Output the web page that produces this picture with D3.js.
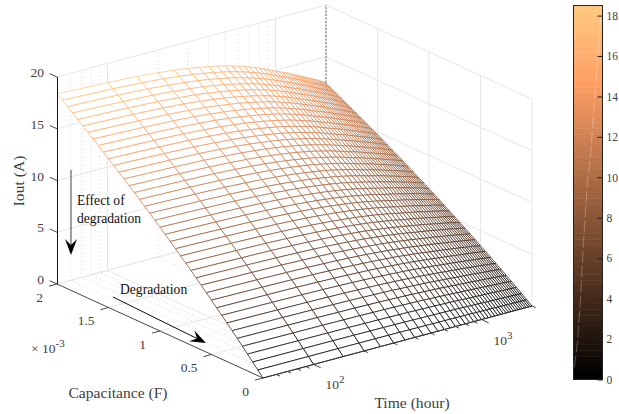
<!DOCTYPE html>
<html>
<head>
<meta charset="utf-8">
<script src="https://cdn.jsdelivr.net/npm/d3@7"></script>
<style>
  body { margin: 0; background: #fff; }
  text { font-family: "Liberation Serif", serif; fill: #404040; font-size: 13.5px; }
</style>
</head>
<body>
<script>
// Values
const capValues = [0, 0.05, 0.1, 0.15, 0.2, 0.25, 0.3, 0.35, 0.4, 0.45, 0.5, 0.55, 0.6, 0.65, 0.7, 0.75, 0.8, 0.85, 0.9, 0.95,
  1, 1.05, 1.1, 1.15, 1.2, 1.25, 1.3, 1.35, 1.4, 1.45, 1.5, 1.55, 1.6, 1.65, 1.7, 1.75, 1.8, 1.85, 1.9, 1.95, 2];   // x 10^-3 F
const timeValues = [50, 100, 150, 200, 250, 300, 350, 400, 450, 500, 550, 600, 650, 700, 750, 800, 850, 900, 950, 1000,
  1050, 1100, 1150, 1200, 1250, 1300, 1350, 1400, 1450, 1500, 1550, 1600, 1650, 1700, 1750, 1800, 1850, 1900, 1950, 2000];
// one row per capacitance, one column per time
const ioutRows = [
[0,0,0,0,0,0,0,0,0,0,0,0,0,0,0,0,0,0,0,0,0,0,0,0,0,0,0,0,0,0,0,0,0,0,0,0,0,0,0,0],
[.55,.54,.54,.53,.53,.52,.52,.51,.50,.50,.49,.49,.48,.48,.47,.47,.46,.46,.45,.45,.44,.44,.43,.43,.42,.42,.42,.41,.41,.41,.40,.40,.40,.39,.39,.39,.38,.38,.38,.37],
[1.09,1.08,1.07,1.06,1.05,1.04,1.03,1.02,1.00,.99,.98,.97,.96,.95,.94,.93,.92,.91,.90,.89,.88,.87,.86,.85,.84,.84,.83,.82,.81,.81,.80,.79,.79,.78,.77,.77,.76,.75,.75,.74],
[1.63,1.61,1.59,1.58,1.56,1.55,1.53,1.52,1.50,1.48,1.47,1.45,1.44,1.42,1.40,1.39,1.37,1.36,1.34,1.32,1.31,1.30,1.29,1.27,1.26,1.25,1.24,1.23,1.22,1.20,1.19,1.18,1.17,1.16,1.15,1.15,1.14,1.13,1.12,1.11],
[2.16,2.13,2.11,2.09,2.07,2.05,2.03,2.01,1.99,1.97,1.95,1.93,1.90,1.88,1.86,1.84,1.82,1.80,1.78,1.75,1.74,1.72,1.71,1.69,1.67,1.66,1.64,1.63,1.61,1.60,1.58,1.57,1.56,1.54,1.53,1.52,1.51,1.49,1.48,1.47],
[2.69,2.66,2.63,2.60,2.58,2.55,2.53,2.50,2.47,2.45,2.42,2.39,2.37,2.34,2.31,2.29,2.26,2.24,2.21,2.18,2.16,2.14,2.12,2.10,2.08,2.06,2.04,2.02,2.00,1.99,1.97,1.95,1.94,1.92,1.90,1.89,1.87,1.86,1.84,1.82],
[3.21,3.17,3.14,3.11,3.08,3.05,3.02,2.99,2.96,2.92,2.89,2.86,2.83,2.80,2.77,2.73,2.70,2.67,2.64,2.61,2.58,2.56,2.53,2.51,2.49,2.46,2.44,2.42,2.39,2.37,2.35,2.33,2.31,2.30,2.28,2.26,2.24,2.22,2.20,2.18],
[3.73,3.68,3.65,3.61,3.58,3.54,3.50,3.47,3.43,3.39,3.36,3.32,3.28,3.25,3.21,3.17,3.14,3.10,3.06,3.03,3.00,2.97,2.94,2.91,2.89,2.86,2.83,2.80,2.78,2.76,2.73,2.71,2.69,2.66,2.64,2.62,2.60,2.57,2.55,2.53],
[4.24,4.19,4.15,4.11,4.07,4.03,3.99,3.94,3.90,3.86,3.82,3.78,3.74,3.69,3.65,3.61,3.57,3.53,3.49,3.44,3.41,3.38,3.35,3.31,3.28,3.25,3.22,3.19,3.16,3.13,3.11,3.08,3.06,3.03,3.01,2.98,2.95,2.93,2.90,2.88],
[4.74,4.69,4.65,4.60,4.56,4.51,4.46,4.42,4.37,4.32,4.28,4.23,4.18,4.13,4.09,4.04,3.99,3.95,3.90,3.86,3.82,3.78,3.75,3.71,3.67,3.64,3.60,3.57,3.54,3.51,3.48,3.45,3.42,3.39,3.36,3.34,3.31,3.28,3.25,3.22],
[5.25,5.19,5.14,5.09,5.04,4.99,4.93,4.88,4.83,4.78,4.73,4.68,4.63,4.57,4.52,4.47,4.42,4.37,4.31,4.26,4.22,4.18,4.14,4.10,4.06,4.02,3.98,3.95,3.91,3.88,3.85,3.81,3.78,3.75,3.72,3.69,3.66,3.63,3.59,3.56],
[5.74,5.68,5.62,5.57,5.51,5.46,5.40,5.35,5.29,5.23,5.18,5.12,5.06,5.00,4.95,4.89,4.84,4.78,4.72,4.67,4.62,4.58,4.54,4.49,4.45,4.40,4.36,4.32,4.29,4.25,4.21,4.18,4.14,4.11,4.07,4.04,4.00,3.97,3.94,3.90],
[6.24,6.16,6.11,6.04,5.99,5.93,5.86,5.80,5.74,5.68,5.62,5.56,5.50,5.43,5.37,5.31,5.25,5.19,5.13,5.07,5.02,4.97,4.92,4.88,4.83,4.78,4.73,4.69,4.65,4.61,4.57,4.53,4.50,4.46,4.42,4.38,4.35,4.31,4.27,4.23],
[6.72,6.65,6.58,6.52,6.46,6.39,6.32,6.26,6.19,6.13,6.06,5.99,5.93,5.86,5.79,5.73,5.66,5.60,5.53,5.46,5.41,5.36,5.31,5.26,5.21,5.16,5.10,5.06,5.02,4.97,4.93,4.89,4.85,4.81,4.77,4.73,4.69,4.65,4.61,4.57],
[7.21,7.12,7.06,6.99,6.92,6.85,6.78,6.71,6.64,6.57,6.50,6.43,6.35,6.28,6.21,6.14,6.07,6.00,5.93,5.86,5.80,5.75,5.69,5.64,5.58,5.53,5.47,5.42,5.38,5.33,5.28,5.24,5.20,5.15,5.11,5.07,5.02,4.98,4.94,4.89],
[7.69,7.60,7.53,7.45,7.38,7.30,7.23,7.15,7.08,7.00,6.93,6.85,6.78,6.70,6.62,6.55,6.47,6.40,6.32,6.25,6.19,6.13,6.07,6.01,5.95,5.89,5.84,5.79,5.73,5.68,5.63,5.59,5.54,5.50,5.45,5.40,5.36,5.31,5.27,5.22],
[8.16,8.07,7.99,7.91,7.83,7.75,7.67,7.59,7.51,7.43,7.35,7.27,7.19,7.11,7.03,6.95,6.87,6.79,6.71,6.63,6.57,6.51,6.44,6.38,6.32,6.26,6.20,6.14,6.09,6.03,5.98,5.93,5.88,5.83,5.79,5.74,5.69,5.64,5.59,5.54],
[8.63,8.53,8.45,8.37,8.29,8.20,8.12,8.03,7.95,7.86,7.78,7.69,7.61,7.52,7.44,7.35,7.27,7.18,7.10,7.01,6.95,6.88,6.82,6.75,6.68,6.62,6.55,6.50,6.44,6.38,6.33,6.27,6.22,6.17,6.12,6.07,6.02,5.96,5.91,5.86],
[9.10,8.99,8.91,8.82,8.73,8.64,8.56,8.47,8.38,8.29,8.20,8.11,8.02,7.93,7.84,7.75,7.66,7.57,7.48,7.39,7.32,7.25,7.18,7.11,7.04,6.98,6.91,6.85,6.79,6.73,6.67,6.61,6.56,6.50,6.45,6.40,6.34,6.29,6.23,6.18],
[9.56,9.45,9.36,9.26,9.18,9.08,8.99,8.90,8.80,8.71,8.61,8.52,8.43,8.33,8.23,8.14,8.05,7.95,7.86,7.77,7.69,7.62,7.55,7.47,7.40,7.33,7.26,7.19,7.13,7.07,7.01,6.95,6.89,6.83,6.78,6.72,6.66,6.61,6.55,6.49],
[10.02,9.90,9.81,9.71,9.62,9.52,9.42,9.32,9.22,9.13,9.03,8.93,8.83,8.73,8.63,8.53,8.43,8.34,8.24,8.14,8.06,7.99,7.91,7.83,7.76,7.68,7.60,7.54,7.47,7.41,7.34,7.28,7.22,7.16,7.10,7.04,6.98,6.92,6.86,6.80],
[10.47,10.35,10.25,10.15,10.05,9.95,9.85,9.74,9.64,9.54,9.44,9.33,9.23,9.12,9.02,8.92,8.81,8.71,8.61,8.51,8.43,8.35,8.27,8.19,8.11,8.03,7.95,7.88,7.81,7.74,7.67,7.61,7.55,7.49,7.42,7.36,7.30,7.23,7.17,7.11],
[10.92,10.79,10.69,10.58,10.48,10.38,10.27,10.16,10.05,9.95,9.84,9.73,9.63,9.51,9.41,9.30,9.19,9.09,8.98,8.87,8.79,8.71,8.62,8.54,8.46,8.37,8.29,8.22,8.15,8.07,8.00,7.94,7.87,7.81,7.74,7.68,7.61,7.55,7.48,7.41],
[11.36,11.23,11.13,11.01,10.91,10.80,10.69,10.58,10.46,10.35,10.24,10.13,10.02,9.90,9.79,9.68,9.57,9.46,9.34,9.23,9.15,9.06,8.97,8.89,8.80,8.71,8.63,8.55,8.48,8.40,8.33,8.26,8.19,8.12,8.06,7.99,7.92,7.85,7.78,7.72],
[11.80,11.67,11.56,11.44,11.33,11.22,11.10,10.99,10.87,10.76,10.64,10.52,10.41,10.29,10.17,10.06,9.94,9.82,9.71,9.59,9.50,9.41,9.32,9.23,9.14,9.05,8.96,8.88,8.81,8.73,8.65,8.58,8.51,8.44,8.37,8.30,8.23,8.16,8.09,8.02],
[12.24,12.10,11.99,11.87,11.75,11.63,11.51,11.39,11.27,11.15,11.03,10.91,10.79,10.67,10.55,10.43,10.31,10.19,10.07,9.95,9.85,9.76,9.67,9.57,9.48,9.39,9.29,9.21,9.13,9.05,8.97,8.90,8.83,8.75,8.68,8.61,8.53,8.46,8.39,8.31],
[12.67,12.53,12.41,12.29,12.17,12.05,11.92,11.80,11.67,11.55,11.42,11.30,11.18,11.04,10.92,10.80,10.67,10.55,10.42,10.30,10.20,10.11,10.01,9.91,9.82,9.72,9.62,9.54,9.46,9.37,9.29,9.22,9.14,9.06,8.99,8.91,8.84,8.76,8.68,8.61],
[13.10,12.95,12.83,12.70,12.58,12.45,12.33,12.20,12.07,11.94,11.81,11.68,11.55,11.42,11.29,11.16,11.03,10.91,10.78,10.65,10.55,10.45,10.35,10.25,10.15,10.05,9.95,9.86,9.78,9.69,9.61,9.53,9.45,9.37,9.29,9.21,9.14,9.06,8.98,8.90],
[13.53,13.37,13.25,13.12,12.99,12.86,12.72,12.59,12.46,12.33,12.19,12.06,11.93,11.79,11.66,11.52,11.39,11.26,11.13,10.99,10.89,10.79,10.68,10.58,10.48,10.37,10.27,10.18,10.09,10.01,9.92,9.84,9.76,9.67,9.59,9.51,9.43,9.35,9.27,9.19],
[13.95,13.79,13.66,13.52,13.40,13.26,13.12,12.98,12.85,12.71,12.57,12.44,12.30,12.16,12.02,11.88,11.75,11.61,11.47,11.34,11.23,11.12,11.02,10.91,10.80,10.70,10.59,10.50,10.41,10.32,10.23,10.14,10.06,9.98,9.89,9.81,9.73,9.64,9.56,9.47],
[14.37,14.20,14.07,13.93,13.80,13.66,13.52,13.37,13.23,13.09,12.95,12.81,12.67,12.52,12.38,12.24,12.10,11.96,11.82,11.68,11.57,11.46,11.35,11.24,11.13,11.02,10.91,10.82,10.72,10.63,10.53,10.45,10.36,10.28,10.19,10.10,10.02,9.93,9.85,9.76],
[14.78,14.61,14.48,14.33,14.20,14.05,13.91,13.76,13.62,13.47,13.33,13.18,13.04,12.88,12.74,12.59,12.45,12.30,12.16,12.01,11.90,11.79,11.68,11.56,11.45,11.34,11.22,11.13,11.03,10.93,10.84,10.75,10.66,10.57,10.48,10.40,10.31,10.22,10.13,10.04],
[15.19,15.02,14.88,14.73,14.59,14.44,14.29,14.14,13.99,13.85,13.70,13.55,13.40,13.24,13.09,12.94,12.79,12.65,12.50,12.35,12.23,12.12,12.00,11.88,11.77,11.65,11.54,11.44,11.34,11.24,11.14,11.05,10.96,10.87,10.78,10.68,10.59,10.50,10.41,10.32],
[15.60,15.42,15.28,15.13,14.98,14.83,14.68,14.52,14.37,14.22,14.06,13.91,13.76,13.60,13.44,13.29,13.14,12.98,12.83,12.68,12.56,12.44,12.32,12.20,12.08,11.97,11.85,11.74,11.64,11.54,11.44,11.34,11.25,11.16,11.06,10.97,10.88,10.78,10.69,10.60],
[16.01,15.82,15.67,15.52,15.37,15.21,15.06,14.90,14.74,14.59,14.43,14.27,14.11,13.95,13.79,13.63,13.48,13.32,13.16,13.01,12.89,12.76,12.64,12.52,12.40,12.27,12.15,12.05,11.94,11.84,11.73,11.64,11.54,11.45,11.35,11.25,11.16,11.06,10.97,10.87],
[16.41,16.22,16.07,15.91,15.75,15.59,15.43,15.27,15.11,14.95,14.79,14.63,14.47,14.30,14.14,13.98,13.82,13.65,13.49,13.33,13.21,13.08,12.96,12.83,12.71,12.58,12.46,12.35,12.24,12.14,12.03,11.93,11.83,11.73,11.63,11.54,11.44,11.34,11.24,11.14],
[16.80,16.61,16.46,16.29,16.14,15.97,15.81,15.64,15.48,15.31,15.15,14.98,14.82,14.64,14.48,14.32,14.15,13.99,13.82,13.66,13.53,13.40,13.27,13.14,13.02,12.89,12.76,12.65,12.54,12.43,12.32,12.22,12.12,12.02,11.92,11.82,11.72,11.62,11.51,11.41],
[17.20,17.00,16.84,16.67,16.51,16.35,16.18,16.01,15.84,15.67,15.50,15.33,15.17,14.99,14.82,14.65,14.48,14.31,14.14,13.98,13.84,13.71,13.58,13.45,13.32,13.19,13.06,12.95,12.83,12.72,12.61,12.50,12.40,12.30,12.20,12.09,11.99,11.89,11.78,11.68],
[17.59,17.39,17.22,17.05,16.89,16.72,16.54,16.37,16.20,16.03,15.85,15.68,15.51,15.33,15.16,14.98,14.81,14.64,14.47,14.29,14.16,14.03,13.89,13.76,13.62,13.49,13.35,13.24,13.12,13.01,12.89,12.79,12.68,12.58,12.47,12.37,12.26,12.16,12.05,11.95],
[17.98,17.77,17.60,17.43,17.26,17.09,16.91,16.73,16.56,16.38,16.20,16.03,15.85,15.67,15.49,15.31,15.14,14.96,14.78,14.61,14.47,14.33,14.20,14.06,13.92,13.79,13.65,13.53,13.41,13.30,13.18,13.07,12.96,12.86,12.75,12.64,12.53,12.42,12.32,12.21],
[18.36,18.15,17.98,17.80,17.63,17.45,17.27,17.09,16.91,16.73,16.55,16.37,16.19,16.00,15.82,15.64,15.46,15.28,15.10,14.92,14.78,14.64,14.50,14.36,14.22,14.08,13.94,13.82,13.70,13.58,13.46,13.35,13.24,13.13,13.02,12.91,12.80,12.69,12.58,12.47]
];
const capTicks = [0, 0.5, 1, 1.5, 2];
const ioutTicks = [0, 5, 10, 15, 20];
const timeMajor = [100, 1000];
const timeMinor = [60, 70, 80, 90, 200, 300, 400, 500, 600, 700, 800, 900, 2000];
const colorTicks = [0, 2, 4, 6, 8, 10, 12, 14, 16, 18];
// pale streak inside the colorbar: [share of bar width, value]
const streakShare = [0.03, 0.14, 0.24, 0.34, 0.48, 0.59, 0.69, 0.83, 0.93];
const streakValue = [0.6, 1.9, 4, 6.7, 9.8, 11.1, 13.2, 15.8, 17.8];

const width = 619, height = 414;

// Corners of the plot box, in pixels
const front = [263, 378], capVec = [-206, -94], timeVec = [269, -72];

const capScale = d3.scaleLinear().domain([0, 2]).range([0, 1]);
const timeScale = d3.scaleLog().domain([50, 2000]).range([0, 1]);
const zScale = d3.scaleLinear().domain([0, 20]).range([0, 207]);

function project(c, t, z) {
  const u = capScale(c), v = timeScale(t);
  return [front[0] + u * capVec[0] + v * timeVec[0],
          front[1] + u * capVec[1] + v * timeVec[1] - zScale(z)];
}

// MATLAB copper, 64 levels
const copper = d3.range(64).map(i => {
  const g = i / 63;
  return d3.rgb(255 * Math.min(1, 1.25 * g), 255 * 0.7812 * g, 255 * 0.4975 * g).formatHex();
});
const colorScale = d3.scaleQuantize().domain([0, 18.5]).range(copper);

const svg = d3.select("body").append("svg")
  .attr("width", width).attr("height", height);

const cMin = 0, cMax = 2, tMin = 50, tMax = 2000;

appendGrid();
appendSurface();
appendAxes();
appendColorbar();
appendNotes();

function segment(g, a, b, stroke, strokeWidth, dash) {
  g.append("line")
    .attr("x1", a[0]).attr("y1", a[1])
    .attr("x2", b[0]).attr("y2", b[1])
    .attr("stroke", stroke)
    .attr("stroke-width", strokeWidth)
    .attr("stroke-dasharray", dash);
}

function appendGrid() {
  const g = svg.append("g");
  const solid = "#e6e6e6", dotted = "#c8c8c8", dots = "1 3";
  // Minor time lines, wall and floor
  timeMinor.forEach(t => {
    segment(g, project(cMax, t, 0), project(cMax, t, 20), dotted, 0.8, dots);
    segment(g, project(cMin, t, 0), project(cMax, t, 0), dotted, 0.8, dots);
  });
  timeMajor.forEach(t => {
    segment(g, project(cMax, t, 0), project(cMax, t, 20), solid, 1);
    segment(g, project(cMin, t, 0), project(cMax, t, 0), solid, 1);
  });
  capTicks.forEach(c => {
    segment(g, project(c, tMax, 0), project(c, tMax, 20), solid, 1);
    segment(g, project(c, tMin, 0), project(c, tMax, 0), solid, 1);
  });
  ioutTicks.forEach(z => {
    segment(g, project(cMax, tMin, z), project(cMax, tMax, z), solid, 1);
    segment(g, project(cMax, tMax, z), project(cMin, tMax, z), solid, 1);
  });
  segment(g, project(cMax, tMax, 0), project(cMax, tMax, 20), "#999", 1.6, "2 1.5");
}

function appendSurface() {
  const line = d3.line();
  const cells = d3.cross(d3.range(capValues.length - 1), d3.range(timeValues.length - 1))
    .sort((a, b) => b[0] - a[0] || b[1] - a[1]);

  svg.append("g").selectAll("path")
    .data(cells)
    .join("path")
    .attr("d", ([i, j]) => line([
      project(capValues[i], timeValues[j], ioutRows[i][j]),
      project(capValues[i + 1], timeValues[j], ioutRows[i + 1][j]),
      project(capValues[i + 1], timeValues[j + 1], ioutRows[i + 1][j + 1]),
      project(capValues[i], timeValues[j + 1], ioutRows[i][j + 1])
    ]) + "Z")
    .attr("fill", "#fff")
    .attr("stroke", ([i, j]) => colorScale(ioutRows[i + 1][j]))
    .attr("stroke-width", 0.75)
    .attr("stroke-linejoin", "round");
}

function appendAxes() {
  const g = svg.append("g");
  const axisColor = "#333";
  const zBase = project(cMax, tMin, 0), zTop = project(cMax, tMin, 20);
  segment(g, [zBase[0] + 0.5, zBase[1]], [zTop[0] + 0.5, zTop[1]], "#111", 1);
  segment(g, project(cMax, tMin, 0), project(cMin, tMin, 0), axisColor, 0.9);
  segment(g, project(cMin, tMin, 0), project(cMin, tMax, 0), axisColor, 0.9);

  // Iout ticks
  ioutTicks.forEach(z => {
    const p = project(cMax, tMin, z);
    segment(g, p, [p[0] + capVec[0] * 0.035, p[1] + capVec[1] * 0.035], axisColor, 0.9);
    g.append("text").attr("x", 44).attr("y", p[1] - 4.5)
      .attr("text-anchor", "end").attr("dominant-baseline", "central").text(z);
  });
  // Capacitance ticks
  capTicks.forEach(c => {
    const p = project(c, tMin, 0);
    segment(g, p, [p[0] - timeVec[0] * 0.03, p[1] - timeVec[1] * 0.03], axisColor, 0.9);
    g.append("text").attr("x", p[0] - 14).attr("y", p[1] + 13)
      .attr("text-anchor", "end").attr("dominant-baseline", "central").text(c);
  });
  // Time ticks
  timeMajor.concat(timeMinor).forEach(t => {
    const p = project(cMin, t, 0);
    const len = timeMajor.includes(t) ? -0.035 : -0.018;
    segment(g, p, [p[0] + capVec[0] * len, p[1] + capVec[1] * len], axisColor, 0.9);
  });
  timeMajor.forEach(t => {
    const p = project(cMin, t, 0);
    const label = g.append("text").attr("x", p[0] + 12).attr("y", p[1] + 25);
    label.append("tspan").text("10");
    label.append("tspan").attr("dy", -6).style("font-size", "11px").text(Math.log10(t));
  });
  // Exponent of the capacitance axis
  const exp = g.append("text").attr("x", 31).attr("y", 353);
  exp.append("tspan").text("\u00d7 10");
  exp.append("tspan").attr("dy", -6).style("font-size", "11px").text("-3");

  const axisLabel = (x, y, text, rotate) => g.append("text")
    .attr("transform", `translate(${x},${y})` + (rotate ? " rotate(-90)" : ""))
    .attr("text-anchor", "middle").attr("dominant-baseline", "central")
    .style("font-size", "15.6px").text(text);
  axisLabel(118, 392, "Capacitance (F)");
  axisLabel(412, 402, "Time (hour)");
  axisLabel(18, 181, "Iout (A)", true);
}

function appendColorbar() {
  const left = 573.5, right = 602.5, top = 5.5, bottom = 379.5;
  const y = d3.scaleLinear().domain([0, 18.5]).range([bottom, top]);
  const g = svg.append("g");

  g.selectAll("rect").data(copper).join("rect")
    .attr("x", left).attr("width", right - left)
    .attr("y", (d, i) => y((i + 1) * 18.5 / 64))
    .attr("height", (bottom - top) / 64 + 0.5)
    .attr("fill", d => d);

  const streak = d3.line()
    .x((d, i) => left + streakShare[i] * (right - left))
    .y(d => y(d));
  g.append("path").attr("d", streak(streakValue))
    .attr("fill", "none").attr("stroke", "#fff").attr("stroke-opacity", 0.28)
    .attr("stroke-width", 1).attr("stroke-dasharray", "12 3");

  g.append("rect").attr("x", left).attr("y", top)
    .attr("width", right - left).attr("height", bottom - top)
    .attr("fill", "none").attr("stroke", "#222").attr("stroke-width", 1);

  const axis = g.append("g").attr("transform", `translate(${right},0)`)
    .call(d3.axisRight(y).tickValues(colorTicks).tickSize(-5).tickPadding(10));
  axis.select(".domain").remove();
  axis.selectAll("line").attr("stroke", "#222");
  axis.selectAll("text").attr("x", 4).style("font-size", "11.5px");
}

function appendArrow(g, from, to, lineColor) {
  const a = Math.atan2(to[1] - from[1], to[0] - from[0]);
  const at = (d, s) => [to[0] - d * Math.cos(a) - s * Math.sin(a),
                        to[1] - d * Math.sin(a) + s * Math.cos(a)];
  segment(g, from, at(10, 0), lineColor, 1);
  g.append("path")
    .attr("d", d3.line()([to, at(16, 6), at(10, 0), at(16, -6)]) + "Z")
    .attr("fill", "#000");
}

function appendNotes() {
  const g = svg.append("g");
  appendArrow(g, [71, 170], [71, 255], "#444");
  appendArrow(g, [113, 297], [206, 343], "#111");
  const note = (x, y, text) => g.append("text").attr("x", x).attr("y", y)
    .attr("dominant-baseline", "central")
    .style("fill", "#111").style("font-size", "13.6px").text(text);
  note(77, 200, "Effect of");
  note(77, 218, "degradation");
  note(120, 289, "Degradation");
}
</script>
</body>
</html>
